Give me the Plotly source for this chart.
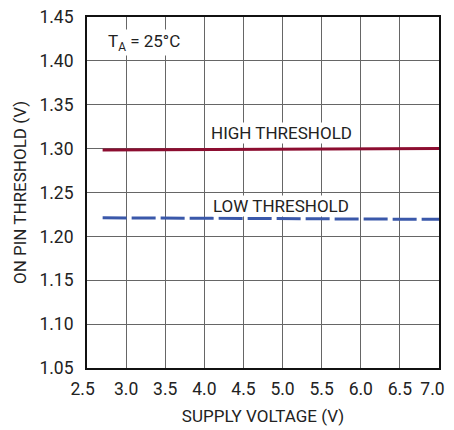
import plotly.graph_objects as go

supply_v = [2.7, 3.0, 3.5, 4.0, 4.5, 5.0, 5.5, 6.0, 6.5, 7.0]
high_th = [1.2985, 1.2986, 1.2988, 1.299, 1.2992, 1.2994, 1.2996, 1.2998, 1.3, 1.3002]
low_th = [1.2212, 1.221, 1.2208, 1.2206, 1.2204, 1.2202, 1.22, 1.2198, 1.2196, 1.2194]
x_ticks = [2.5, 3.0, 3.5, 4.0, 4.5, 5.0, 5.5, 6.0, 6.5, 7.0]
y_ticks = [1.05, 1.10, 1.15, 1.20, 1.25, 1.30, 1.35, 1.40, 1.45]

FONT = "Roboto, Arial, sans-serif"
NB = "\u00a0"

x_text = [f"{v:.1f}" for v in x_ticks]
x_text[0] = x_text[0] + NB * 2
x_text[-1] = x_text[-1] + NB * 3

fig = go.Figure()
fig.add_trace(go.Scatter(x=supply_v, y=high_th, mode="lines",
                         line=dict(color="#8c0d30", width=3)))
fig.add_trace(go.Scatter(x=supply_v, y=low_th, mode="lines",
                         line=dict(color="#3a58aa", width=3, dash="24px,5px")))

fig.update_layout(
    width=446, height=422,
    margin=dict(l=79, r=15, t=9, b=62, autoexpand=False),
    plot_bgcolor="white", paper_bgcolor="white",
    showlegend=False,
    font=dict(family=FONT, size=17, color="#222"),
)
fig.update_xaxes(range=[2.5, 7.0], tickvals=x_ticks, ticktext=x_text,
                 showgrid=True, gridcolor="#666", gridwidth=1,
                 showline=True, linecolor="#111", linewidth=2, mirror=True,
                 ticks="", zeroline=False, ticklabelstandoff=4,
                 ticklabeloverflow="allow", automargin=False,
                 tickfont=dict(size=17.5),
                 title=dict(text="SUPPLY VOLTAGE (V)", standoff=12, font=dict(size=17)))
fig.update_yaxes(range=[1.05, 1.45], tickvals=y_ticks, ticktext=[f"{v:.2f}" for v in y_ticks],
                 showgrid=True, gridcolor="#666", gridwidth=1,
                 showline=True, linecolor="#111", linewidth=2, mirror=True,
                 ticks="", zeroline=False, ticklabelstandoff=8,
                 ticklabeloverflow="allow", automargin=False,
                 tickfont=dict(size=17.5),
                 title=dict(text="ON PIN THRESHOLD (V)", standoff=8, font=dict(size=17)))

fig.add_annotation(x=2.74, y=1.421, xref="x", yref="y", text="T<sub>A</sub> = 25°C",
                   showarrow=False, xanchor="left", font=dict(size=17), bgcolor="white")
fig.add_annotation(x=4.99, y=1.318, xref="x", yref="y", text="HIGH THRESHOLD",
                   showarrow=False, font=dict(size=17), bgcolor="white", borderpad=0)
fig.add_annotation(x=4.98, y=1.2345, xref="x", yref="y", text="LOW THRESHOLD",
                   showarrow=False, font=dict(size=17), bgcolor="white", borderpad=0)
fig.add_annotation(x=0.045, y=1.0330, xref="paper", yref="paper", text="<b>Supply Voltage</b>",
                   showarrow=False, xanchor="left", yanchor="bottom",
                   font=dict(size=24, color="#222"))

fig.write_html("out.html")
